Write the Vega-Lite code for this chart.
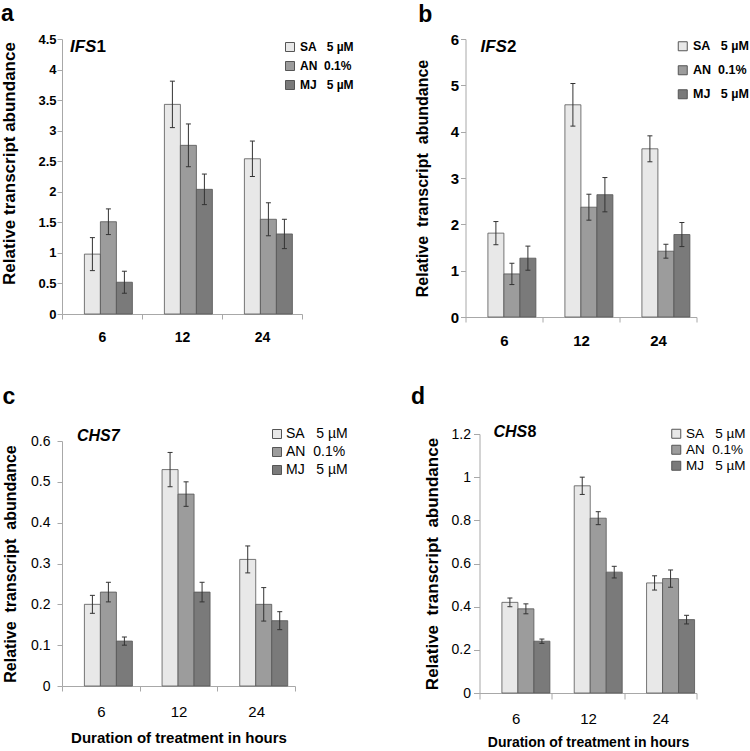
{
  "$schema": "https://vega.github.io/schema/vega-lite/v6.json",
  "background": "white",
  "padding": {"left": 0, "top": 2, "right": 0, "bottom": 0},
  "config": {"view": {"stroke": null}, "axis": {"grid": false, "labelOverlap": false}, "tick": {"opacity": 1}},
  "resolve": {"scale": {"fill": "independent"}, "legend": {"fill": "independent"}},
  "datasets": {
    "expr": [
      {"panel": "a", "hour": "6", "treat": "SA", "mean": 0.98, "lo": 0.71, "hi": 1.25},
      {"panel": "a", "hour": "6", "treat": "AN", "mean": 1.51, "lo": 1.30, "hi": 1.72},
      {"panel": "a", "hour": "6", "treat": "MJ", "mean": 0.52, "lo": 0.34, "hi": 0.70},
      {"panel": "a", "hour": "12", "treat": "SA", "mean": 3.43, "lo": 3.05, "hi": 3.81},
      {"panel": "a", "hour": "12", "treat": "AN", "mean": 2.76, "lo": 2.41, "hi": 3.11},
      {"panel": "a", "hour": "12", "treat": "MJ", "mean": 2.04, "lo": 1.79, "hi": 2.29},
      {"panel": "a", "hour": "24", "treat": "SA", "mean": 2.54, "lo": 2.25, "hi": 2.83},
      {"panel": "a", "hour": "24", "treat": "AN", "mean": 1.55, "lo": 1.28, "hi": 1.82},
      {"panel": "a", "hour": "24", "treat": "MJ", "mean": 1.31, "lo": 1.07, "hi": 1.55},
      {"panel": "b", "hour": "6", "treat": "SA", "mean": 1.81, "lo": 1.56, "hi": 2.06},
      {"panel": "b", "hour": "6", "treat": "AN", "mean": 0.93, "lo": 0.70, "hi": 1.16},
      {"panel": "b", "hour": "6", "treat": "MJ", "mean": 1.27, "lo": 1.01, "hi": 1.53},
      {"panel": "b", "hour": "12", "treat": "SA", "mean": 4.58, "lo": 4.12, "hi": 5.04},
      {"panel": "b", "hour": "12", "treat": "AN", "mean": 2.37, "lo": 2.09, "hi": 2.65},
      {"panel": "b", "hour": "12", "treat": "MJ", "mean": 2.64, "lo": 2.27, "hi": 3.01},
      {"panel": "b", "hour": "24", "treat": "SA", "mean": 3.63, "lo": 3.35, "hi": 3.91},
      {"panel": "b", "hour": "24", "treat": "AN", "mean": 1.42, "lo": 1.27, "hi": 1.57},
      {"panel": "b", "hour": "24", "treat": "MJ", "mean": 1.78, "lo": 1.52, "hi": 2.04},
      {"panel": "c", "hour": "6", "treat": "SA", "mean": 0.20, "lo": 0.178, "hi": 0.222},
      {"panel": "c", "hour": "6", "treat": "AN", "mean": 0.23, "lo": 0.206, "hi": 0.254},
      {"panel": "c", "hour": "6", "treat": "MJ", "mean": 0.11, "lo": 0.10, "hi": 0.12},
      {"panel": "c", "hour": "12", "treat": "SA", "mean": 0.53, "lo": 0.488, "hi": 0.572},
      {"panel": "c", "hour": "12", "treat": "AN", "mean": 0.47, "lo": 0.44, "hi": 0.50},
      {"panel": "c", "hour": "12", "treat": "MJ", "mean": 0.23, "lo": 0.206, "hi": 0.254},
      {"panel": "c", "hour": "24", "treat": "SA", "mean": 0.31, "lo": 0.277, "hi": 0.343},
      {"panel": "c", "hour": "24", "treat": "AN", "mean": 0.20, "lo": 0.159, "hi": 0.241},
      {"panel": "c", "hour": "24", "treat": "MJ", "mean": 0.16, "lo": 0.138, "hi": 0.182},
      {"panel": "d", "hour": "6", "treat": "SA", "mean": 0.42, "lo": 0.40, "hi": 0.44},
      {"panel": "d", "hour": "6", "treat": "AN", "mean": 0.39, "lo": 0.367, "hi": 0.413},
      {"panel": "d", "hour": "6", "treat": "MJ", "mean": 0.24, "lo": 0.23, "hi": 0.25},
      {"panel": "d", "hour": "12", "treat": "SA", "mean": 0.96, "lo": 0.92, "hi": 1.00},
      {"panel": "d", "hour": "12", "treat": "AN", "mean": 0.81, "lo": 0.78, "hi": 0.84},
      {"panel": "d", "hour": "12", "treat": "MJ", "mean": 0.56, "lo": 0.533, "hi": 0.587},
      {"panel": "d", "hour": "24", "treat": "SA", "mean": 0.51, "lo": 0.477, "hi": 0.543},
      {"panel": "d", "hour": "24", "treat": "AN", "mean": 0.53, "lo": 0.49, "hi": 0.57},
      {"panel": "d", "hour": "24", "treat": "MJ", "mean": 0.34, "lo": 0.32, "hi": 0.36}
    ]
  },
  "spacing": 38,
  "vconcat": [
    {
      "spacing": 163.5,
      "bounds": "flush",
      "resolve": {"scale": {"fill": "independent"}, "legend": {"fill": "independent"}},
      "hconcat": [
        {
          "width": 240, "height": 275,
          "title": {"text": "a", "anchor": "start", "frame": "bounds", "font": "Liberation Sans", "fontSize": 23, "fontWeight": "bold", "color": "#000", "offset": 7.5},
          "layer": [
            {
              "data": {"name": "expr"}, "transform": [{"filter": "datum.panel === 'a'"}],
              "mark": {"type": "bar", "stroke": "#555", "strokeWidth": 0.8},
              "encoding": {
                "x": {"field": "hour", "type": "nominal", "sort": ["6", "12", "24"], "scale": {"paddingInner": 0, "paddingOuter": 0},
                  "axis": {"title": null, "labelAngle": 0, "labelFont": "Liberation Sans", "labelFontSize": 14, "labelFontWeight": "bold", "labelColor": "#000", "labelPadding": 11, "tickSize": 5, "tickBand": "extent", "domainColor": "#a8a8a8", "tickColor": "#a8a8a8"}},
                "xOffset": {"field": "treat", "type": "nominal", "sort": ["SA", "AN", "MJ"], "scale": {"paddingInner": 0, "paddingOuter": 1.17, "align": 0.7}},
                "y": {"field": "mean", "type": "quantitative", "scale": {"domain": [0, 4.5]},
                  "axis": {"title": "Relative transcript abundance", "titleFont": "Liberation Sans", "titleFontSize": 17, "titleFontWeight": "bold", "titleColor": "#000", "titlePadding": 19, "titleY": 124,
                    "values": [0, 0.5, 1, 1.5, 2, 2.5, 3, 3.5, 4, 4.5], "tickCount": 10, "labelOverlap": false, "format": "~g", "labelFont": "Liberation Sans", "labelFontSize": 13, "labelFontWeight": "bold", "labelColor": "#000", "labelPadding": 1, "tickSize": 5, "domainColor": "#a8a8a8", "tickColor": "#a8a8a8"}},
                "fill": {"field": "treat", "type": "nominal", "scale": {"domain": ["SA", "AN", "MJ"], "range": ["#e8e8e8", "#9c9c9c", "#7a7a7a"]},
                  "legend": {"title": null, "orient": "none", "legendX": 222, "legendY": 2, "padding": 0, "symbolType": "square", "symbolSize": 81, "symbolStrokeColor": "#555", "symbolStrokeWidth": 1, "labelFont": "Liberation Sans", "labelFontSize": 12, "labelFontWeight": "bold", "labelColor": "#000", "rowPadding": 5, "labelOffset": 4,
                    "labelExpr": "datum.label === 'SA' ? 'SA\u00a0\u00a0\u00a05 µM' : datum.label === 'AN' ? 'AN\u00a0\u00a00.1%' : 'MJ\u00a0\u00a0\u00a05 µM'"}}
              }
            },
            {
              "data": {"name": "expr"}, "transform": [{"filter": "datum.panel === 'a'"}],
              "mark": {"type": "rule", "color": "#333", "strokeWidth": 1},
              "encoding": {
                "x": {"field": "hour", "type": "nominal", "sort": ["6", "12", "24"]},
                "xOffset": {"field": "treat", "type": "nominal", "sort": ["SA", "AN", "MJ"]},
                "y": {"field": "lo", "type": "quantitative"}, "y2": {"field": "hi"}
              }
            },
            {
              "data": {"name": "expr"}, "transform": [{"filter": "datum.panel === 'a'"}],
              "mark": {"type": "tick", "orient": "horizontal", "size": 5, "thickness": 1, "color": "#333"},
              "encoding": {
                "x": {"field": "hour", "type": "nominal", "sort": ["6", "12", "24"]},
                "xOffset": {"field": "treat", "type": "nominal", "sort": ["SA", "AN", "MJ"]},
                "y": {"field": "lo", "type": "quantitative"}
              }
            },
            {
              "data": {"name": "expr"}, "transform": [{"filter": "datum.panel === 'a'"}],
              "mark": {"type": "tick", "orient": "horizontal", "size": 5, "thickness": 1, "color": "#333"},
              "encoding": {
                "x": {"field": "hour", "type": "nominal", "sort": ["6", "12", "24"]},
                "xOffset": {"field": "treat", "type": "nominal", "sort": ["SA", "AN", "MJ"]},
                "y": {"field": "hi", "type": "quantitative"}
              }
            },
            {
              "data": {"values": [{"g": "IFS", "n": "1"}]},
              "mark": {"type": "text", "align": "left", "baseline": "top", "font": "Liberation Sans", "fontSize": 17, "fontWeight": "bold", "fontStyle": "italic", "color": "#000", "dx": 8},
              "encoding": {"x": {"datum": "6", "bandPosition": 0}, "y": {"datum": 4.5}, "text": {"field": "g"}}
            },
            {
              "data": {"values": [{"g": "IFS", "n": "1"}]},
              "mark": {"type": "text", "align": "left", "baseline": "top", "font": "Liberation Sans", "fontSize": 17, "fontWeight": "bold", "color": "#000", "dx": 34.5},
              "encoding": {"x": {"datum": "6", "bandPosition": 0}, "y": {"datum": 4.5}, "text": {"field": "n"}}
            }
          ]
        },
        {
          "width": 231, "height": 278,
          "title": {"text": "b", "anchor": "start", "frame": "bounds", "font": "Liberation Sans", "fontSize": 23, "fontWeight": "bold", "color": "#000", "offset": 5, "dx": 4},
          "layer": [
            {
              "data": {"name": "expr"}, "transform": [{"filter": "datum.panel === 'b'"}],
              "mark": {"type": "bar", "stroke": "#555", "strokeWidth": 0.8},
              "encoding": {
                "x": {"field": "hour", "type": "nominal", "sort": ["6", "12", "24"], "scale": {"paddingInner": 0, "paddingOuter": 0},
                  "axis": {"title": null, "labelAngle": 0, "labelFont": "Liberation Sans", "labelFontSize": 15, "labelFontWeight": "bold", "labelColor": "#000", "labelPadding": 11, "tickSize": 5, "tickBand": "extent", "domainColor": "#a8a8a8", "tickColor": "#a8a8a8"}},
                "xOffset": {"field": "treat", "type": "nominal", "sort": ["SA", "AN", "MJ"], "scale": {"paddingInner": 0, "paddingOuter": 1.25, "align": 0.7}},
                "y": {"field": "mean", "type": "quantitative", "scale": {"domain": [0, 6]},
                  "axis": {"title": "Relative\u00a0\u00a0transcript\u00a0\u00a0abundance", "titleFont": "Liberation Sans", "titleFontSize": 16, "titleFontWeight": "bold", "titleColor": "#000", "titlePadding": 20,
                    "values": [0, 1, 2, 3, 4, 5, 6], "format": "~g", "labelFont": "Liberation Sans", "labelFontSize": 15, "labelFontWeight": "bold", "labelColor": "#000", "labelPadding": 2, "tickSize": 5, "domainColor": "#a8a8a8", "tickColor": "#a8a8a8"}},
                "fill": {"field": "treat", "type": "nominal", "scale": {"domain": ["SA", "AN", "MJ"], "range": ["#e8e8e8", "#9c9c9c", "#7a7a7a"]},
                  "legend": {"title": null, "orient": "none", "legendX": 211, "legendY": 1, "padding": 0, "symbolType": "square", "symbolSize": 81, "symbolStrokeColor": "#555", "symbolStrokeWidth": 1, "labelFont": "Liberation Sans", "labelFontSize": 12.5, "labelFontWeight": "bold", "labelColor": "#000", "rowPadding": 10, "labelOffset": 4,
                    "labelExpr": "datum.label === 'SA' ? 'SA\u00a0\u00a0\u00a05 µM' : datum.label === 'AN' ? 'AN\u00a0\u00a00.1%' : 'MJ\u00a0\u00a0\u00a05 µM'"}}
              }
            },
            {
              "data": {"name": "expr"}, "transform": [{"filter": "datum.panel === 'b'"}],
              "mark": {"type": "rule", "color": "#333", "strokeWidth": 1},
              "encoding": {
                "x": {"field": "hour", "type": "nominal", "sort": ["6", "12", "24"]},
                "xOffset": {"field": "treat", "type": "nominal", "sort": ["SA", "AN", "MJ"]},
                "y": {"field": "lo", "type": "quantitative"}, "y2": {"field": "hi"}
              }
            },
            {
              "data": {"name": "expr"}, "transform": [{"filter": "datum.panel === 'b'"}],
              "mark": {"type": "tick", "orient": "horizontal", "size": 5, "thickness": 1, "color": "#333"},
              "encoding": {
                "x": {"field": "hour", "type": "nominal", "sort": ["6", "12", "24"]},
                "xOffset": {"field": "treat", "type": "nominal", "sort": ["SA", "AN", "MJ"]},
                "y": {"field": "lo", "type": "quantitative"}
              }
            },
            {
              "data": {"name": "expr"}, "transform": [{"filter": "datum.panel === 'b'"}],
              "mark": {"type": "tick", "orient": "horizontal", "size": 5, "thickness": 1, "color": "#333"},
              "encoding": {
                "x": {"field": "hour", "type": "nominal", "sort": ["6", "12", "24"]},
                "xOffset": {"field": "treat", "type": "nominal", "sort": ["SA", "AN", "MJ"]},
                "y": {"field": "hi", "type": "quantitative"}
              }
            },
            {
              "data": {"values": [{"g": "IFS", "n": "2"}]},
              "mark": {"type": "text", "align": "left", "baseline": "top", "font": "Liberation Sans", "fontSize": 17, "fontWeight": "bold", "fontStyle": "italic", "color": "#000", "dx": 15},
              "encoding": {"x": {"datum": "6", "bandPosition": 0}, "y": {"datum": 6}, "text": {"field": "g"}}
            },
            {
              "data": {"values": [{"g": "IFS", "n": "2"}]},
              "mark": {"type": "text", "align": "left", "baseline": "top", "font": "Liberation Sans", "fontSize": 17, "fontWeight": "bold", "color": "#000", "dx": 41.5},
              "encoding": {"x": {"datum": "6", "bandPosition": 0}, "y": {"datum": 6}, "text": {"field": "n"}}
            }
          ]
        }
      ]
    },
    {
      "spacing": 184.5,
      "bounds": "flush",
      "center": true,
      "resolve": {"scale": {"fill": "independent"}, "legend": {"fill": "independent"}},
      "hconcat": [
        {
          "width": 233, "height": 245,
          "title": {"text": "c", "anchor": "start", "frame": "bounds", "font": "Liberation Sans", "fontSize": 23, "fontWeight": "bold", "color": "#000", "offset": 18},
          "layer": [
            {
              "data": {"name": "expr"}, "transform": [{"filter": "datum.panel === 'c'"}],
              "mark": {"type": "bar", "stroke": "#555", "strokeWidth": 0.8},
              "encoding": {
                "x": {"field": "hour", "type": "nominal", "sort": ["6", "12", "24"], "scale": {"paddingInner": 0, "paddingOuter": 0},
                  "axis": {"title": "Duration of treatment in hours", "titleFont": "Liberation Sans", "titleFontSize": 15, "titleFontWeight": "bold", "titleColor": "#000", "titlePadding": 11, "labelAngle": 0, "labelFont": "Liberation Sans", "labelFontSize": 15, "labelColor": "#000", "labelPadding": 13, "tickSize": 5, "tickBand": "extent", "domainColor": "#a8a8a8", "tickColor": "#a8a8a8"}},
                "xOffset": {"field": "treat", "type": "nominal", "sort": ["SA", "AN", "MJ"], "scale": {"paddingInner": 0, "paddingOuter": 0.74}},
                "y": {"field": "mean", "type": "quantitative", "scale": {"domain": [0, 0.6]},
                  "axis": {"title": "Relative\u00a0\u00a0transcript\u00a0\u00a0abundance", "titleFont": "Liberation Sans", "titleFontSize": 16, "titleFontWeight": "bold", "titleColor": "#000", "titlePadding": 12,
                    "values": [0, 0.1, 0.2, 0.3, 0.4, 0.5, 0.6], "format": "~g", "labelFont": "Liberation Sans", "labelFontSize": 14, "labelColor": "#000", "labelPadding": 7, "tickSize": 5, "domainColor": "#a8a8a8", "tickColor": "#a8a8a8"}},
                "fill": {"field": "treat", "type": "nominal", "scale": {"domain": ["SA", "AN", "MJ"], "range": ["#e8e8e8", "#9c9c9c", "#7a7a7a"]},
                  "legend": {"title": null, "orient": "none", "legendX": 208, "legendY": -14, "padding": 0, "symbolType": "square", "symbolSize": 81, "symbolStrokeColor": "#555", "symbolStrokeWidth": 1, "labelFont": "Liberation Sans", "labelFontSize": 14, "labelColor": "#000", "rowPadding": 4, "labelOffset": 2,
                    "labelExpr": "datum.label === 'SA' ? 'SA\u00a0\u00a0\u00a05 µM' : datum.label === 'AN' ? 'AN\u00a0\u00a00.1%' : 'MJ\u00a0\u00a0\u00a05 µM'"}}
              }
            },
            {
              "data": {"name": "expr"}, "transform": [{"filter": "datum.panel === 'c'"}],
              "mark": {"type": "rule", "color": "#333", "strokeWidth": 1},
              "encoding": {
                "x": {"field": "hour", "type": "nominal", "sort": ["6", "12", "24"]},
                "xOffset": {"field": "treat", "type": "nominal", "sort": ["SA", "AN", "MJ"]},
                "y": {"field": "lo", "type": "quantitative"}, "y2": {"field": "hi"}
              }
            },
            {
              "data": {"name": "expr"}, "transform": [{"filter": "datum.panel === 'c'"}],
              "mark": {"type": "tick", "orient": "horizontal", "size": 5, "thickness": 1, "color": "#333"},
              "encoding": {
                "x": {"field": "hour", "type": "nominal", "sort": ["6", "12", "24"]},
                "xOffset": {"field": "treat", "type": "nominal", "sort": ["SA", "AN", "MJ"]},
                "y": {"field": "lo", "type": "quantitative"}
              }
            },
            {
              "data": {"name": "expr"}, "transform": [{"filter": "datum.panel === 'c'"}],
              "mark": {"type": "tick", "orient": "horizontal", "size": 5, "thickness": 1, "color": "#333"},
              "encoding": {
                "x": {"field": "hour", "type": "nominal", "sort": ["6", "12", "24"]},
                "xOffset": {"field": "treat", "type": "nominal", "sort": ["SA", "AN", "MJ"]},
                "y": {"field": "hi", "type": "quantitative"}
              }
            },
            {
              "data": {"values": [{"g": "CHS7"}]},
              "mark": {"type": "text", "align": "left", "baseline": "top", "font": "Liberation Sans", "fontSize": 16, "fontWeight": "bold", "fontStyle": "italic", "color": "#000", "dx": 15, "dy": -13},
              "encoding": {"x": {"datum": "6", "bandPosition": 0}, "y": {"datum": 0.6}, "text": {"field": "g"}}
            }
          ]
        },
        {
          "width": 217, "height": 259,
          "title": {"text": "d", "anchor": "start", "frame": "bounds", "font": "Liberation Sans", "fontSize": 23, "fontWeight": "bold", "color": "#000", "offset": 15, "dx": -12},
          "layer": [
            {
              "data": {"name": "expr"}, "transform": [{"filter": "datum.panel === 'd'"}],
              "mark": {"type": "bar", "stroke": "#555", "strokeWidth": 0.8},
              "encoding": {
                "x": {"field": "hour", "type": "nominal", "sort": ["6", "12", "24"], "scale": {"paddingInner": 0, "paddingOuter": 0},
                  "axis": {"title": "Duration of treatment in hours", "titleFont": "Liberation Sans", "titleFontSize": 14, "titleFontWeight": "bold", "titleColor": "#000", "titlePadding": 9, "labelAngle": 0, "labelFont": "Liberation Sans", "labelFontSize": 15, "labelColor": "#000", "labelPadding": 12, "tickSize": 6, "tickBand": "extent", "domainColor": "#a8a8a8", "tickColor": "#a8a8a8"}},
                "xOffset": {"field": "treat", "type": "nominal", "sort": ["SA", "AN", "MJ"], "scale": {"paddingInner": 0, "paddingOuter": 0.82}},
                "y": {"field": "mean", "type": "quantitative", "scale": {"domain": [0, 1.2]},
                  "axis": {"title": "Relative\u00a0\u00a0transcript\u00a0\u00a0abundance", "titleFont": "Liberation Sans", "titleFontSize": 17, "titleFontWeight": "bold", "titleColor": "#000", "titlePadding": 10,
                    "values": [0, 0.2, 0.4, 0.6, 0.8, 1, 1.2], "format": "~g", "labelFont": "Liberation Sans", "labelFontSize": 14, "labelColor": "#000", "labelPadding": 3, "tickSize": 6, "domainColor": "#a8a8a8", "tickColor": "#a8a8a8"}},
                "fill": {"field": "treat", "type": "nominal", "scale": {"domain": ["SA", "AN", "MJ"], "range": ["#e8e8e8", "#9c9c9c", "#7a7a7a"]},
                  "legend": {"title": null, "orient": "none", "legendX": 190, "legendY": -7, "padding": 0, "symbolType": "square", "symbolSize": 81, "symbolStrokeColor": "#555", "symbolStrokeWidth": 1, "labelFont": "Liberation Sans", "labelFontSize": 13.5, "labelColor": "#000", "rowPadding": 1, "labelOffset": 3,
                    "labelExpr": "datum.label === 'SA' ? 'SA\u00a0\u00a0\u00a05 µM' : datum.label === 'AN' ? 'AN\u00a0\u00a00.1%' : 'MJ\u00a0\u00a0\u00a05 µM'"}}
              }
            },
            {
              "data": {"name": "expr"}, "transform": [{"filter": "datum.panel === 'd'"}],
              "mark": {"type": "rule", "color": "#333", "strokeWidth": 1},
              "encoding": {
                "x": {"field": "hour", "type": "nominal", "sort": ["6", "12", "24"]},
                "xOffset": {"field": "treat", "type": "nominal", "sort": ["SA", "AN", "MJ"]},
                "y": {"field": "lo", "type": "quantitative"}, "y2": {"field": "hi"}
              }
            },
            {
              "data": {"name": "expr"}, "transform": [{"filter": "datum.panel === 'd'"}],
              "mark": {"type": "tick", "orient": "horizontal", "size": 5, "thickness": 1, "color": "#333"},
              "encoding": {
                "x": {"field": "hour", "type": "nominal", "sort": ["6", "12", "24"]},
                "xOffset": {"field": "treat", "type": "nominal", "sort": ["SA", "AN", "MJ"]},
                "y": {"field": "lo", "type": "quantitative"}
              }
            },
            {
              "data": {"name": "expr"}, "transform": [{"filter": "datum.panel === 'd'"}],
              "mark": {"type": "tick", "orient": "horizontal", "size": 5, "thickness": 1, "color": "#333"},
              "encoding": {
                "x": {"field": "hour", "type": "nominal", "sort": ["6", "12", "24"]},
                "xOffset": {"field": "treat", "type": "nominal", "sort": ["SA", "AN", "MJ"]},
                "y": {"field": "hi", "type": "quantitative"}
              }
            },
            {
              "data": {"values": [{"g": "CHS", "n": "8"}]},
              "mark": {"type": "text", "align": "left", "baseline": "top", "font": "Liberation Sans", "fontSize": 16, "fontWeight": "bold", "fontStyle": "italic", "color": "#000", "dx": 14, "dy": -10},
              "encoding": {"x": {"datum": "6", "bandPosition": 0}, "y": {"datum": 1.2}, "text": {"field": "g"}}
            },
            {
              "data": {"values": [{"g": "CHS", "n": "8"}]},
              "mark": {"type": "text", "align": "left", "baseline": "top", "font": "Liberation Sans", "fontSize": 16, "fontWeight": "bold", "color": "#000", "dx": 48, "dy": -10},
              "encoding": {"x": {"datum": "6", "bandPosition": 0}, "y": {"datum": 1.2}, "text": {"field": "n"}}
            }
          ]
        }
      ]
    }
  ]
}
